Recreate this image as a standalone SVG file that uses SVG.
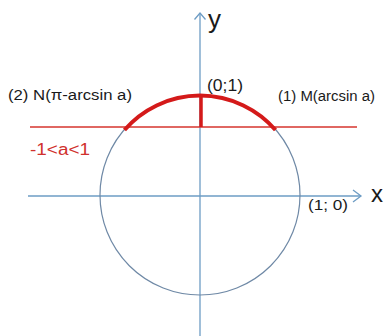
<svg xmlns="http://www.w3.org/2000/svg" width="388" height="336" viewBox="0 0 388 336">
<style>
.ax{stroke:#6d9cc4;stroke-width:1.3;fill:none}
.lbl{font-family:"Liberation Sans",Arial,sans-serif;fill:#1a1a1a}
.red{fill:#d0312d}
</style>
<rect width="388" height="336" fill="#fff"/>
<g id="connectors">
<line class="ax" x1="200" y1="13" x2="200" y2="336"/>
<polyline class="ax" points="194.5,19.5 200,13 205.5,19.5"/>
<line class="ax" x1="28" y1="196" x2="361" y2="196"/>
<polyline class="ax" points="353,190 361,196 353,202"/>
</g>
<g id="circle">
<circle cx="200" cy="195" r="100" fill="none" stroke="#6f89a6" stroke-width="1.2"/>
</g>
<g id="line-a">
<line x1="30" y1="127" x2="357" y2="127" stroke="#d6342e" stroke-width="1.6"/>
</g>
<g id="arc">
<path d="M124.5,130 A100 100 0 0 1 275.5,130" fill="none" stroke="#d41a1a" stroke-width="4"/>
<line x1="201" y1="95" x2="201" y2="127" stroke="#d41a1a" stroke-width="3.5"/>
</g>
<g id="labels">
<text class="lbl" x="208" y="28" font-size="26">y</text>
<text class="lbl" x="371" y="202" font-size="24">x</text>
<text class="lbl" x="8" y="100" font-size="15.5" textLength="124" lengthAdjust="spacingAndGlyphs">(2) N(π-arcsin  a)</text>
<text class="lbl" x="207" y="91" font-size="16" textLength="36" lengthAdjust="spacingAndGlyphs">(0;1)</text>
<text class="lbl" x="278" y="101" font-size="14" textLength="97" lengthAdjust="spacingAndGlyphs">(1) M(arcsin a)</text>
<text class="lbl red" x="30" y="155" font-size="16" textLength="60" lengthAdjust="spacingAndGlyphs">-1&lt;a&lt;1</text>
<text class="lbl" x="308" y="210" font-size="15" textLength="40" lengthAdjust="spacingAndGlyphs">(1; 0)</text>
</g>
</svg>
